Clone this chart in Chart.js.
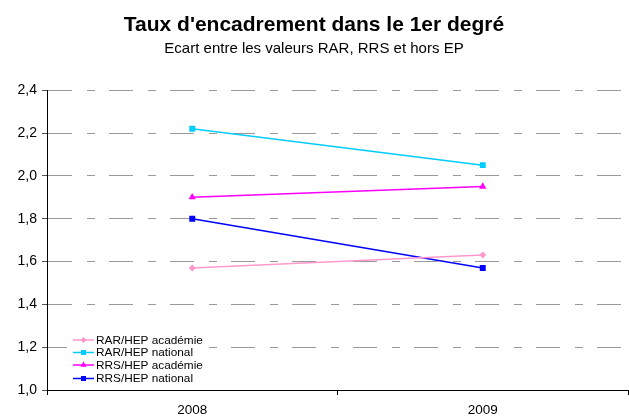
<!DOCTYPE html>
<html>
<head>
<meta charset="utf-8">
<script src="https://cdn.jsdelivr.net/npm/chart.js@4/dist/chart.umd.min.js"></script>
<style>
html,body{margin:0;padding:0;background:#fff;}
#wrap{width:629px;height:417px;position:relative;}
</style>
</head>
<body>
<div id="wrap"><canvas id="c" width="629" height="417"></canvas></div>
<script>
const categories = ['2008', '2009'];
const rarAcademie = [1.57, 1.63];
const rarNational = [2.22, 2.05];
const rrsAcademie = [1.90, 1.95];
const rrsNational = [1.80, 1.57];
const seriesNames = ['RAR/HEP académie', 'RAR/HEP national', 'RRS/HEP académie', 'RRS/HEP national'];
const yMin = 1.0, yMax = 2.4, yStep = 0.2;

const FONT = "'Liberation Sans', Arial, sans-serif";

const colors = ['#FF99CC', '#00CCFF', '#FF00FF', '#0000FF'];
const styles = ['rectRot', 'rect', 'triangle', 'rect'];
const radii = [3.5, 4.2, 4.2, 4.2];
const values = [rarAcademie, rarNational, rrsAcademie, rrsNational];

const datasets = values.map((v, i) => ({
  label: seriesNames[i],
  data: v,
  borderColor: colors[i],
  backgroundColor: colors[i],
  borderWidth: 1.5,
  pointStyle: styles[i],
  pointRadius: radii[i],
  pointBorderWidth: 0,
  pointBackgroundColor: colors[i],
  tension: 0
}));

const legendPlugin = {
  id: 'insideLegend',
  afterDraw(chart) {
    const ctx = chart.ctx;
    const ca = chart.chartArea;
    const x0 = ca.left + 26;
    const rowYs = [ca.bottom - 50, ca.bottom - 37.5, ca.bottom - 25, ca.bottom - 11.5];
    ctx.save();
    ctx.fillStyle = '#fff';
    ctx.fillRect(ca.left + 20, ca.bottom - 58, 142, 55);
    ctx.font = '11.8px ' + FONT;
    ctx.textBaseline = 'middle';
    ctx.textAlign = 'left';
    chart.data.datasets.forEach((ds, i) => {
      const y = rowYs[i];
      ctx.strokeStyle = ds.borderColor;
      ctx.lineWidth = 1.5;
      ctx.beginPath();
      ctx.moveTo(x0, y);
      ctx.lineTo(x0 + 21, y);
      ctx.stroke();
      ctx.fillStyle = ds.borderColor;
      Chart.helpers.drawPoint(ctx, {pointStyle: ds.pointStyle, rotation: 0, borderWidth: 0, radius: ds.pointRadius * 0.85}, x0 + 10.5, y);
      ctx.fillStyle = '#000';
      ctx.fillText(ds.label, x0 + 23, y + 0.5);
    });
    ctx.restore();
  }
};

new Chart(document.getElementById('c'), {
  type: 'line',
  data: { labels: categories, datasets },
  plugins: [legendPlugin],
  options: {
    responsive: false,
    animation: false,
    layout: { autoPadding: false, padding: { left: 0, right: 1, top: 0, bottom: 0 } },
    plugins: {
      legend: { display: false },
      tooltip: { enabled: false },
      title: {
        display: true,
        text: "Taux d'encadrement dans le 1er degré",
        color: '#000',
        font: { family: FONT, size: 21, weight: 'bold' },
        padding: { top: 13, bottom: 0 }
      },
      subtitle: {
        display: true,
        text: 'Ecart entre les valeurs RAR, RRS et hors EP',
        color: '#000',
        font: { family: FONT, size: 15 },
        padding: { top: 2, bottom: 32 }
      }
    },
    scales: {
      x: {
        type: 'category',
        offset: true,
        grid: { display: true, drawOnChartArea: false, drawTicks: true, tickLength: 5, offset: true, color: '#000' },
        border: { display: true, color: '#000', width: 1 },
        ticks: { color: '#000', font: { family: FONT, size: 13.5 }, padding: 7, maxRotation: 0 },
        afterFit(s) { s.height = 27; }
      },
      y: {
        min: yMin, max: yMax,
        grid: { color: '#999999', lineWidth: 1, tickLength: 5, tickColor: '#555' },
        border: { display: true, color: '#000', width: 1, dash: [24, 15, 8, 14] },
        ticks: {
          stepSize: yStep,
          color: '#000',
          font: { family: FONT, size: 14 },
          padding: 5,
          callback: (v) => Number(v).toFixed(1).replace('.', ',')
        },
        afterFit(s) { s.width = 47; }
      }
    }
  }
});
</script>
</body>
</html>
